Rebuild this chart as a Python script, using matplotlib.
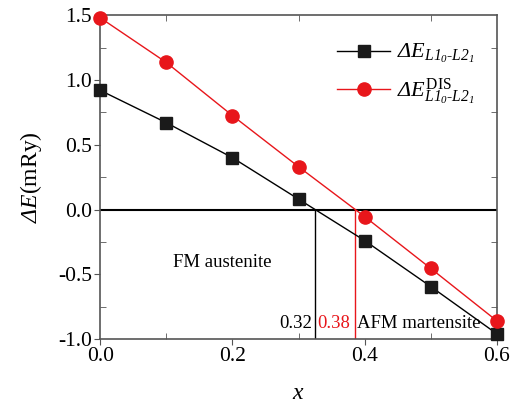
import matplotlib
matplotlib.use('Agg')
import matplotlib.pyplot as plt
from matplotlib.ticker import MultipleLocator

plt.rcParams['font.family'] = ['Liberation Serif', 'DejaVu Serif']
# 数学文本: rm 用斜体, 让 Δ 变成斜体; 上标 DIS 用 sf (正体)
plt.rcParams['mathtext.fontset'] = 'custom'
plt.rcParams['mathtext.rm'] = 'Liberation Serif:italic'
plt.rcParams['mathtext.it'] = 'Liberation Serif:italic'
plt.rcParams['mathtext.sf'] = 'Liberation Serif'
plt.rcParams['mathtext.bf'] = 'Liberation Serif:bold'

# 数据
x = [0.0, 0.1, 0.2, 0.3, 0.4, 0.5, 0.6]
dE = [0.92, 0.67, 0.40, 0.08, -0.24, -0.595, -0.96]
dE_dis = [1.48, 1.135, 0.725, 0.33, -0.055, -0.455, -0.86]
cross = [0.325, 0.385]
cross_labels = ['0.32', '0.38']

fig = plt.figure(figsize=(5.22, 4.11), dpi=100)
ax = fig.add_axes([0.192, 0.175, 0.76, 0.788])

ax.plot(x, dE, '-s', color='black', lw=1, ms=8.5, mfc='#1a1a1a', mec='#1a1a1a',
        label=r'$\Delta E_{L1_0\text{-}L2_1}$', clip_on=False, zorder=4)
ax.plot(x, dE_dis, '-o', color='#e8161b', lw=1, ms=9.5,
        label=r'$\Delta E^{\mathsf{DIS}}_{L1_0\text{-}L2_1}$', clip_on=False, zorder=4)

ax.axhline(0, color='black', lw=1.5, zorder=2)
ax.plot([cross[0], cross[0]], [0, -1.0], color='black', lw=1)
ax.plot([cross[1], cross[1]], [0, -1.0], color='#e8161b', lw=1)

ax.text(0.11, -0.41, 'FM austenite', fontsize=13.5, va='center')
ax.text(cross[0] - 0.004, -0.88, cross_labels[0], fontsize=13.5, ha='right', va='center')
ax.text(cross[0] + 0.003, -0.88, cross_labels[1], fontsize=13.5, ha='left', va='center',
        color='#e8161b')
ax.text(cross[1] + 0.004, -0.88, 'AFM martensite', fontsize=13.5, ha='left', va='center')

ax.set_xlim(0, 0.6)
ax.set_ylim(-1.0, 1.5)
ax.xaxis.set_major_locator(MultipleLocator(0.2))
ax.xaxis.set_minor_locator(MultipleLocator(0.1))
ax.yaxis.set_major_locator(MultipleLocator(0.5))
ax.yaxis.set_minor_locator(MultipleLocator(0.25))
ax.xaxis.set_major_formatter(plt.FuncFormatter(lambda v, p: '%.1f' % v))
ax.yaxis.set_major_formatter(plt.FuncFormatter(lambda v, p: '%.1f' % v))
ax.tick_params(which='major', direction='out', length=4, labelsize=15.5, color='#555555', pad=2)
ax.tick_params(which='minor', direction='in', length=4, top=True, right=True, color='#555555')
for s in ax.spines.values():
    s.set_color('#555555')
    s.set_linewidth(1.2)

ax.set_xlabel(r'$x$', fontsize=17, labelpad=12)
ax.set_ylabel(r'$\Delta E$(mRy)', fontsize=17, labelpad=10)

ax.legend(loc='upper right', frameon=False, fontsize=16, handlelength=2.4, handletextpad=0.3,
          borderaxespad=0.6, labelspacing=0.5, bbox_to_anchor=(1.0, 0.985))

fig.savefig('out.png', dpi=100)
